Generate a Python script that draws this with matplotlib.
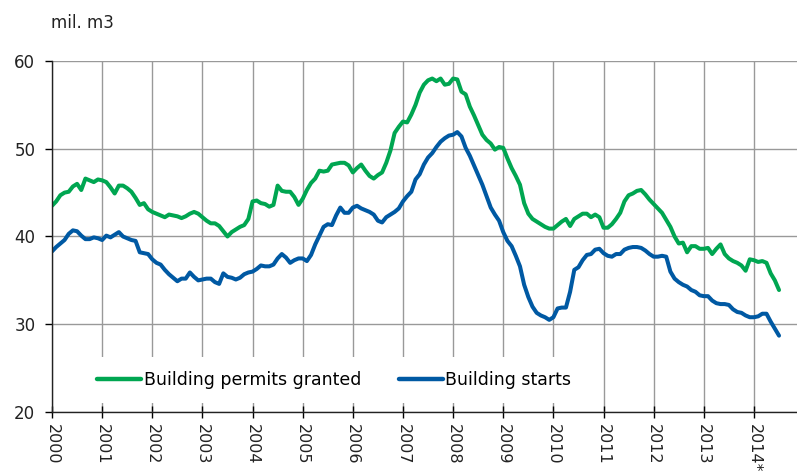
import numpy as np
import matplotlib
matplotlib.use("Agg")
import matplotlib.pyplot as plt

plt.rcParams['font.family'] = ['DejaVu Sans']

# monthly values, million m3, Jan 2000 onwards
permits = [
    43.5, 44.0, 44.7, 45.0, 45.1, 45.7, 46.0, 45.3, 46.6, 46.4,
    46.2, 46.5, 46.4, 46.2, 45.6, 44.9, 45.8, 45.8, 45.5, 45.1,
    44.4, 43.6, 43.8, 43.1, 42.8, 42.6, 42.4, 42.2, 42.5, 42.4,
    42.3, 42.1, 42.3, 42.6, 42.8, 42.6, 42.2, 41.8, 41.5, 41.5,
    41.2, 40.6, 40.0, 40.5, 40.8, 41.1, 41.3, 42.0, 44.0, 44.1,
    43.8, 43.7, 43.4, 43.6, 45.8, 45.2, 45.1, 45.1, 44.5, 43.6,
    44.3, 45.3, 46.1, 46.6, 47.5, 47.4, 47.5, 48.2, 48.3, 48.4,
    48.4, 48.1, 47.3, 47.8, 48.2, 47.5, 46.9, 46.6, 47.0, 47.3,
    48.4, 49.8, 51.8, 52.5, 53.1, 53.0, 53.9, 55.0, 56.4, 57.3,
    57.8, 58.0, 57.7, 58.0, 57.3, 57.4, 58.0, 57.9, 56.5, 56.2,
    54.8, 53.8, 52.7, 51.6, 51.0, 50.6, 49.9, 50.2, 50.1, 48.9,
    47.8, 46.9, 45.9, 43.8, 42.6, 42.0, 41.7, 41.4, 41.1, 40.9,
    40.9, 41.3, 41.7, 42.0, 41.2, 42.0, 42.3, 42.6, 42.6, 42.2,
    42.5, 42.2, 41.0, 41.0, 41.4, 42.0, 42.7, 44.0, 44.7, 44.9,
    45.2, 45.3, 44.8, 44.2, 43.7, 43.2, 42.7, 41.9, 41.1, 40.0,
    39.2, 39.3, 38.2, 38.9, 38.9, 38.6, 38.6, 38.7, 38.0, 38.6,
    39.1, 38.0, 37.5, 37.2, 37.0, 36.7, 36.1, 37.4, 37.3, 37.1,
    37.2, 37.0, 35.8, 35.0, 33.9,
]
starts = [
    38.3, 38.8, 39.2, 39.6, 40.3, 40.7, 40.6, 40.1, 39.7, 39.7,
    39.9, 39.8, 39.6, 40.1, 39.9, 40.2, 40.5, 40.0, 39.8, 39.6,
    39.5, 38.2, 38.1, 38.0, 37.4, 37.0, 36.8, 36.2, 35.7, 35.3,
    34.9, 35.2, 35.2, 35.9, 35.4, 35.0, 35.1, 35.2, 35.2, 34.8,
    34.6, 35.8, 35.4, 35.3, 35.1, 35.3, 35.7, 35.9, 36.0, 36.3,
    36.7, 36.6, 36.6, 36.8, 37.5, 38.0, 37.6, 37.0, 37.3, 37.5,
    37.5, 37.2, 37.9, 39.1, 40.1, 41.1, 41.4, 41.3, 42.4, 43.3,
    42.7, 42.7, 43.3, 43.5, 43.2, 43.0, 42.8, 42.5, 41.8, 41.6,
    42.2, 42.5, 42.8, 43.2, 44.0, 44.6, 45.1, 46.5, 47.1, 48.2,
    49.0, 49.5, 50.2, 50.8, 51.2, 51.5, 51.6, 51.9, 51.4, 50.1,
    49.2, 48.1, 47.0, 45.9, 44.6, 43.3, 42.5, 41.8, 40.5, 39.5,
    38.9, 37.8, 36.6, 34.5, 33.1, 32.0, 31.3, 31.0, 30.8, 30.5,
    30.8, 31.8, 31.9, 31.9, 33.7, 36.2, 36.5, 37.3, 37.9, 38.0,
    38.5, 38.6, 38.1, 37.8, 37.7, 38.0, 38.0, 38.5, 38.7, 38.8,
    38.8, 38.7, 38.4, 38.0, 37.7, 37.7, 37.8, 37.7, 36.0, 35.2,
    34.8, 34.5, 34.3, 33.9, 33.7, 33.3, 33.2, 33.2, 32.7, 32.4,
    32.3, 32.3, 32.2, 31.7, 31.4, 31.3, 31.0, 30.8, 30.8, 30.9,
    31.2, 31.2, 30.3, 29.5, 28.7,
]
years = list(range(2000, 2015))
year_labels = [str(y) for y in years[:-1]] + ["2014*"]
y_ticks = [20, 30, 40, 50, 60]

t = 2000 + np.arange(len(permits)) / 12

fig = plt.figure(figsize=(7.97, 4.75), dpi=100)
ax = fig.add_axes([52 / 797, 63 / 475, 745 / 797, 351 / 475])

green = '#00A651'
blue = '#0059A3'
ax.plot(t, permits, color=green, lw=2.9, label='Building permits granted', solid_capstyle='round')
ax.plot(t, starts, color=blue, lw=2.9, label='Building starts', solid_capstyle='round')

ax.set_xlim(2000, 2000 + 745 / 50.14)
ax.set_ylim(20, 60)
ax.set_yticks(y_ticks)
ax.set_xticks(years)
ax.set_xticklabels(year_labels, rotation=270, fontsize=11.5, color='#222222')
ax.tick_params(axis='y', direction='out', length=5, width=1, pad=7, labelsize=12, labelcolor='#222222')
ax.tick_params(axis='x', direction='inout', length=9, width=1, pad=4)

ax.grid(True, color='#999999', lw=1.0)
ax.set_axisbelow(True)
for s in ['top', 'right']:
    ax.spines[s].set_visible(False)
for s in ['left', 'bottom']:
    ax.spines[s].set_color('#222222')
    ax.spines[s].set_linewidth(1.0)

leg = ax.legend(loc='center', bbox_to_anchor=(0.379, 0.091), ncol=2, frameon=True,
                fontsize=12.5, handlelength=2.55, handletextpad=0.12, columnspacing=2.2,
                borderpad=0.8, fancybox=False)
leg.get_frame().set_facecolor('white')
leg.get_frame().set_edgecolor('none')
leg.get_frame().set_alpha(1)
for line in leg.get_lines():
    line.set_linewidth(3.2)

fig.text(51 / 797, 1 - 28 / 475, 'mil. m3', fontsize=12, color='#222222', ha='left', va='baseline')

fig.savefig('out.png', dpi=100)
